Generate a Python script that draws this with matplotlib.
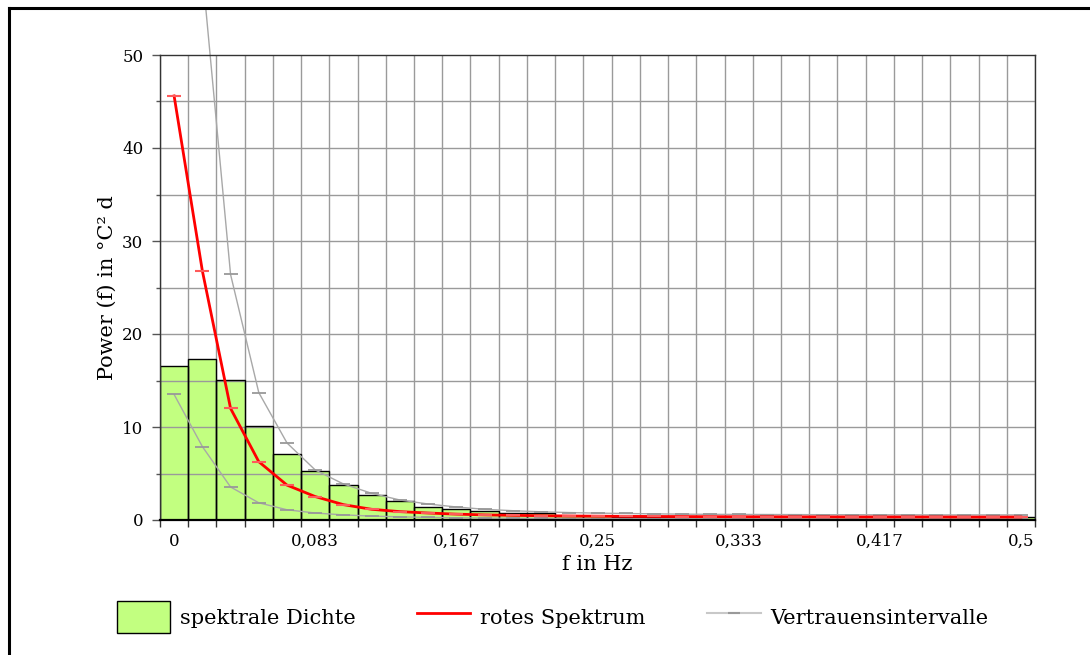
import matplotlib
matplotlib.use("Agg")
import matplotlib.pyplot as plt
import numpy as np
from matplotlib.lines import Line2D
from matplotlib.patches import Patch
from matplotlib.transforms import Bbox, TransformedBbox

# spectrum is sampled on 60 bins up to the Nyquist frequency 0.5
freq = np.arange(31) / 60

# spektrale Dichte (bars)
density = [16.6, 17.3, 15.05, 10.1, 7.13, 5.3, 3.76, 2.7, 2.04, 1.43,
           1.15, 1.0, 0.8, 0.72, 0.45, 0.4, 0.37, 0.35, 0.34, 0.33,
           0.32, 0.31, 0.3, 0.3, 0.31, 0.29, 0.3, 0.3, 0.29, 0.3, 0.3]

# rotes Spektrum
red_spec = [45.6, 26.8, 12.0, 6.27, 3.75, 2.52, 1.65, 1.15, 0.9, 0.75,
            0.63, 0.55, 0.5, 0.46, 0.43, 0.41, 0.39, 0.38, 0.37, 0.36,
            0.35, 0.35, 0.34, 0.34, 0.33, 0.33, 0.33, 0.33, 0.32, 0.32, 0.32]

# Vertrauensintervalle (upper / lower)
conf_hi = [100.0, 59.0, 26.4, 13.7, 8.28, 5.38, 3.87, 2.87, 2.15, 1.72,
           1.4, 1.15, 1.0, 0.88, 0.8, 0.74, 0.7, 0.66, 0.63, 0.61,
           0.6, 0.59, 0.58, 0.57, 0.57, 0.56, 0.56, 0.55, 0.55, 0.55, 0.55]
conf_lo = [13.5, 7.9, 3.55, 1.85, 1.1, 0.75, 0.55, 0.42, 0.34, 0.28,
           0.24, 0.21, 0.19, 0.17, 0.16, 0.15, 0.15, 0.14, 0.14, 0.13,
           0.13, 0.13, 0.13, 0.12, 0.12, 0.12, 0.12, 0.12, 0.12, 0.12, 0.12]

xtick_labels = ["0", "0,083", "0,167", "0,25", "0,333", "0,417", "0,5"]

plt.rcParams["font.family"] = ["DejaVu Serif"]
plt.rcParams["font.size"] = 12

GREEN = "#c2ff80"
GRAY = "#a8a8a8"
GRID = "#9a9a9a"
BIG = 15

fig = plt.figure(figsize=(10.9, 6.55), dpi=100)
ax = fig.add_axes([160 / 1090, 1 - 520 / 655, 875 / 1090, 465 / 655])

bw = 1 / 60
ax.bar(freq, density, width=bw, color=GREEN, edgecolor="none", zorder=0.5)
ax.bar(freq, density, width=bw, fill=False, edgecolor="black", linewidth=1.0, zorder=1.7)

ax.plot(freq, conf_lo, color=GRAY, lw=1.0, marker="_", ms=10, mec="#999999", mew=1.3, zorder=2)
hi_line, = ax.plot(freq, conf_hi, color=GRAY, lw=1.0, marker="_", ms=10, mec="#999999", mew=1.3, zorder=2)
ax.plot(freq, red_spec, color="#ff0000", lw=2.0, marker="_", ms=10, mec="#ff5a5a", mew=1.5, zorder=3)

# upper band runs past the plot area up to the frame line
hi_line.set_clip_path(None)
hi_line.set_clip_box(TransformedBbox(Bbox.from_extents(0, 0, 1, 1 - 9 / 655), fig.transFigure))

ax.set_xlim(-bw / 2, 0.5 + bw / 2)
ax.set_ylim(0, 50)

edges = np.arange(32) / 60 - bw / 2
ax.set_xticks(freq[::5])
ax.set_xticklabels(xtick_labels)
ax.set_xticks(edges, minor=True)
ax.tick_params(axis="x", which="major", length=0, pad=9)
ax.tick_params(axis="x", which="minor", length=5, width=1.0, color="#333333")

ax.set_yticks(np.arange(0, 51, 10))
ax.set_yticks(np.arange(5, 50, 10), minor=True)
ax.tick_params(axis="y", which="major", length=6, width=1.0, color="#555555", pad=6)
ax.tick_params(axis="y", which="minor", length=3, width=1.0, color="#555555")

for x in edges:
    ax.axvline(x, color=GRID, lw=1.0, zorder=1.5)
for y in np.arange(5, 50, 5):
    ax.axhline(y, color=GRID, lw=1.0, zorder=1.5)

for side in ["left", "top", "right"]:
    ax.spines[side].set_color("#333333")
    ax.spines[side].set_linewidth(1.0)
ax.spines["bottom"].set_color("black")
ax.spines["bottom"].set_linewidth(1.6)

ax.set_xlabel("f in Hz", fontsize=BIG)
ax.xaxis.set_label_coords(0.5, -0.075)
ax.set_ylabel("Power (f) in °C² d", fontsize=BIG)
ax.yaxis.set_label_coords(-0.049, 0.5)

handles = [
    Patch(facecolor=GREEN, edgecolor="black", linewidth=1.0),
    Line2D([], [], color="#ff0000", lw=2.0),
    Line2D([], [], color="#c8c8c8", lw=1.5, marker="_", ms=8, mec="#999999", mew=1.5),
]
labels = ["spektrale Dichte", "rotes Spektrum", "Vertrauensintervalle"]
fig.legend(handles, labels, loc="center left", bbox_to_anchor=(117 / 1090, 1 - 617 / 655),
           ncol=3, frameon=False, fontsize=BIG, handlelength=2.55, handleheight=1.92,
           handletextpad=0.48, columnspacing=2.95, borderpad=0, borderaxespad=0, numpoints=1)

# frame lines along the top and left edge
fig.add_artist(Line2D([8.5 / 1090, 8.5 / 1090], [0, 1 - 7.5 / 655], color="black", lw=2.2,
                      transform=fig.transFigure, solid_capstyle="projecting"))
fig.add_artist(Line2D([8.5 / 1090, 1], [1 - 7.5 / 655, 1 - 7.5 / 655], color="black", lw=2.2,
                      transform=fig.transFigure, solid_capstyle="projecting"))

fig.savefig("out.png", dpi=100)
